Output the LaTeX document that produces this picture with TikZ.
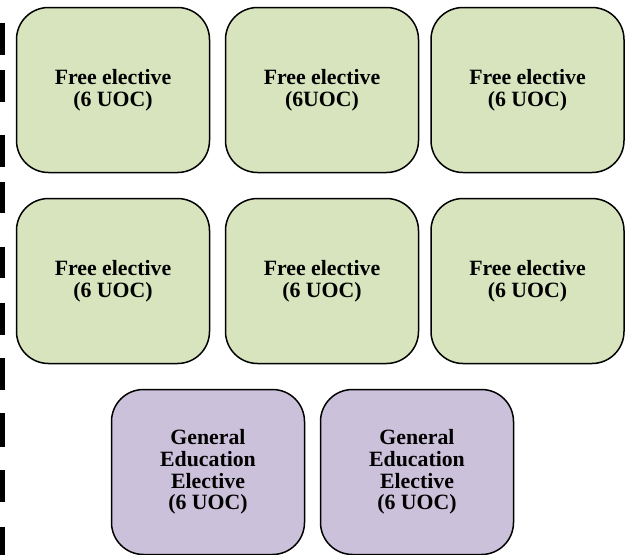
\documentclass[tikz,border=0pt]{standalone}
\usepackage{fontspec}
\setmainfont{Liberation Serif}
\definecolor{freegreen}{HTML}{D7E4BD}
\definecolor{genpurple}{HTML}{CCC1DA}
\begin{document}
\begin{tikzpicture}[x=1pt,y=-1pt,
  course/.style={draw,line width=1.5pt,rounded corners=32pt,minimum width=193pt,minimum height=165pt,align=center,font=\fontsize{21.8}{21.8}\selectfont\bfseries},
  free/.style={course,fill=freegreen},
  gened/.style={course,fill=genpurple}]
\useasboundingbox (0,0) rectangle (625,555);
\foreach \a/\b in {23/55,70/102,135/167,182/213,247/278,303/335,358/390,413/447,470/502,527/555}
  \fill (0,\a) rectangle (5,\b);
\node[free] (1) at (113,90) {Free elective\\(6 UOC)};
\node[free] (2) at (322,90) {Free elective\\(6UOC)};
\node[free] (3) at (527.5,90) {Free elective\\(6 UOC)};
\node[free] (4) at (113,281) {Free elective\\(6 UOC)};
\node[free] (5) at (322,281) {Free elective\\(6 UOC)};
\node[free] (6) at (527.5,281) {Free elective\\(6 UOC)};
\node[gened] (7) at (208,472) {General\\Education\\Elective\\(6 UOC)};
\node[gened] (8) at (417,472) {General\\Education\\Elective\\(6 UOC)};
\end{tikzpicture}
\end{document}
